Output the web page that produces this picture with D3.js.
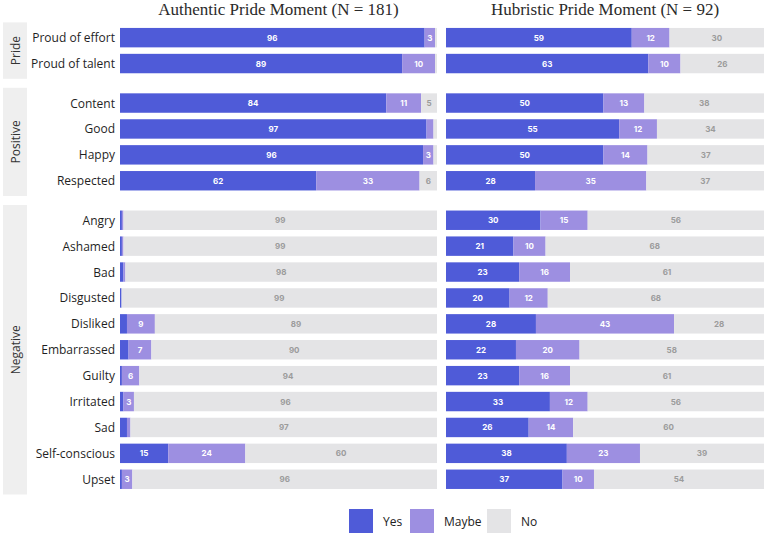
<!DOCTYPE html>
<html>
<head>
<meta charset="utf-8">
<script src="https://cdn.jsdelivr.net/npm/d3@7"></script>
<style>
  body { margin: 0; background: #fff; }
  svg { display: block; }
</style>
</head>
<body>
<svg id="chart"></svg>
<script>
// === Data ===
const groups = ["Pride", "Positive", "Negative"];
const emotions = [
  "Proud of effort", "Proud of talent",
  "Content", "Good", "Happy", "Respected",
  "Angry", "Ashamed", "Bad", "Disgusted", "Disliked", "Embarrassed",
  "Guilty", "Irritated", "Sad", "Self-conscious", "Upset"
];
const emotionGroup = [
  "Pride", "Pride",
  "Positive", "Positive", "Positive", "Positive",
  "Negative", "Negative", "Negative", "Negative", "Negative", "Negative",
  "Negative", "Negative", "Negative", "Negative", "Negative"
];
const responses = ["Yes", "Maybe", "No"];
const panelTitles = ["Authentic Pride Moment (N = 181)", "Hubristic Pride Moment (N = 92)"];

// percent of respondents, authentic pride moment
const authYes   = [96.1, 89.0, 84.0, 96.7, 95.6, 61.9, 0.6, 0.6, 1.1, 0.5, 2.2, 2.7, 0.6, 1.1, 2.2, 15.2, 0.6];
const authMaybe = [3.3, 10.4, 11.0, 2.2, 3.3, 32.6, 0.5, 0.5, 0.6, 0.0, 8.8, 7.2, 5.5, 3.3, 1.1, 24.3, 3.3];
const authNo    = [0.6, 0.6, 5.0, 1.1, 1.1, 5.5, 98.9, 98.9, 98.3, 99.4, 89.0, 90.1, 93.9, 95.6, 96.7, 60.4, 96.1];

// percent of respondents, hubristic pride moment
const hubYes   = [59, 63, 50, 55, 50, 28, 30, 21, 23, 20, 28, 22, 23, 33, 26, 38, 37];
const hubMaybe = [12, 10, 13, 12, 14, 35, 15, 10, 16, 12, 43, 20, 16, 12, 14, 23, 10];
const hubNo    = [30, 26, 38, 34, 37, 37, 56, 68, 61, 68, 28, 58, 61, 56, 60, 39, 54];

const colors = { Yes: "#4f5bd8", Maybe: "#9d8fe1", No: "#e4e4e6" };
const labelColors = { Yes: "#ffffff", Maybe: "#ffffff", No: "#9b9b9b" };

// === Layout ===
const W = 767, H = 536;
const svg = d3.select("#chart").attr("width", W).attr("height", H);

const rowStep = 25.9, panelPad = 2.3, panelGap = 9, topY = 22.4;
const panelsX = [[120, 437], [446, 764]];

// vertical extent of each facet row group
const facet = {};
let yCursor = topY;
groups.forEach(g => {
  const rows = emotions.filter((e, i) => emotionGroup[i] === g);
  const h = rows.length * rowStep + 2 * panelPad;
  const y = d3.scaleBand().domain(rows)
    .range([yCursor + panelPad, yCursor + h - panelPad])
    .paddingInner(0.25).paddingOuter(0.125);
  facet[g] = { y0: yCursor, y1: yCursor + h, y, rows };
  yCursor += h + panelGap;
});

// facet strips on the left
groups.forEach(g => {
  const f = facet[g];
  svg.append("rect").attr("x", 3).attr("y", f.y0).attr("width", 24).attr("height", f.y1 - f.y0)
    .attr("fill", "#efefef");
  svg.append("text")
    .attr("transform", `translate(15.5,${(f.y0 + f.y1) / 2}) rotate(-90)`)
    .attr("text-anchor", "middle").attr("dominant-baseline", "central")
    .style("font-family", "'Open Sans', sans-serif").style("font-size", "12px")
    .attr("fill", "#333").text(g);
});

// category labels
emotions.forEach((e, i) => {
  const f = facet[emotionGroup[i]];
  svg.append("text").attr("x", 115).attr("y", f.y(e) + f.y.bandwidth() / 2)
    .attr("text-anchor", "end").attr("dominant-baseline", "central")
    .style("font-family", "'Open Sans', sans-serif").style("font-size", "12px")
    .attr("fill", "#1f1f1f").text(e);
});

// === Panels ===
const panelData = [
  emotions.map((e, i) => ({ emotion: e, Yes: authYes[i], Maybe: authMaybe[i], No: authNo[i] })),
  emotions.map((e, i) => ({ emotion: e, Yes: hubYes[i], Maybe: hubMaybe[i], No: hubNo[i] }))
];

const stack = d3.stack().keys(responses).offset(d3.stackOffsetExpand);

panelData.forEach((data, p) => {
  const x = d3.scaleLinear().domain([0, 1]).range(panelsX[p]);
  const g = svg.append("g");

  g.append("text").attr("x", (panelsX[p][0] + panelsX[p][1]) / 2).attr("y", 15)
    .attr("text-anchor", "middle")
    .style("font-family", "'Liberation Serif', serif").style("font-size", "17px")
    .attr("fill", "#2a2a2a").text(panelTitles[p]);

  const series = stack(data);
  series.forEach(s => {
    const key = s.key;
    const yOf = d => facet[emotionGroup[emotions.indexOf(d.data.emotion)]].y;

    g.selectAll(null).data(s).enter().append("rect")
      .attr("x", d => x(d[0]))
      .attr("y", d => yOf(d)(d.data.emotion))
      .attr("width", d => Math.max(0, x(d[1]) - x(d[0])))
      .attr("height", d => yOf(d).bandwidth())
      .attr("fill", colors[key]);

    g.selectAll(null).data(s.filter(d => d.data[key] >= 3)).enter().append("text")
      .attr("x", d => (x(d[0]) + x(d[1])) / 2)
      .attr("y", d => yOf(d)(d.data.emotion) + yOf(d).bandwidth() / 2)
      .attr("text-anchor", "middle").attr("dominant-baseline", "central")
      .style("font-family", "Inter, sans-serif").style("font-size", "8px").style("font-weight", "700")
      .attr("fill", labelColors[key])
      .text(d => Math.round(d.data[key]));
  });
});

// === Legend ===
const legendX = [349, 410, 487];
const legend = svg.append("g");
responses.forEach((r, i) => {
  legend.append("rect").attr("x", legendX[i]).attr("y", 509).attr("width", 24).attr("height", 24)
    .attr("fill", colors[r]);
  legend.append("text").attr("x", legendX[i] + 34).attr("y", 521)
    .attr("dominant-baseline", "central")
    .style("font-family", "'Open Sans', sans-serif").style("font-size", "12px")
    .attr("fill", "#222").text(r);
});
</script>
</body>
</html>
